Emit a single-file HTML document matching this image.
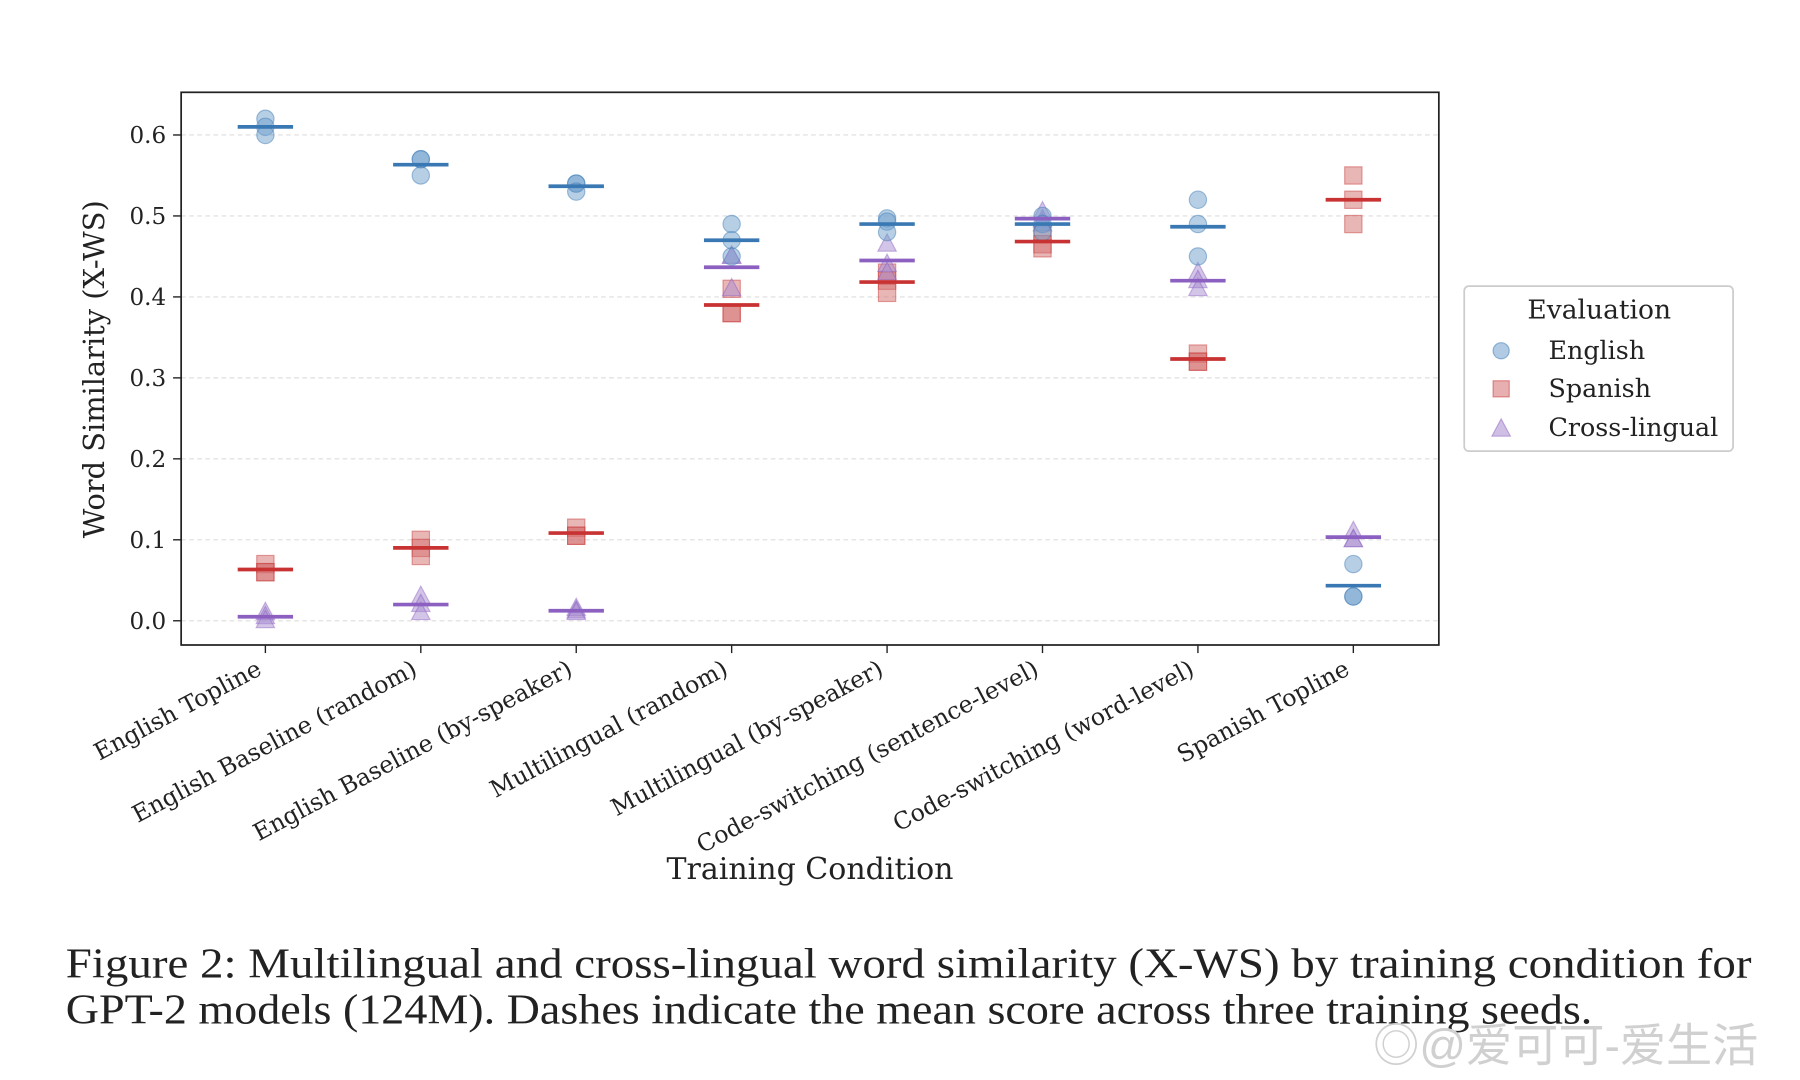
<!DOCTYPE html>
<html><head><meta charset="utf-8"><style>
html,body{margin:0;padding:0;background:#fff;}
svg{display:block;}
text{font-family:"DejaVu Serif","Liberation Serif",serif;fill:#222;}
</style></head><body>
<svg id="chart" width="1800" height="1080" viewBox="0 0 1560 936" xmlns="http://www.w3.org/2000/svg">
<rect x="0" y="0" width="1560" height="936" fill="#fff"/>
<g id="grid"></g>
<rect x="157" y="80" width="1090" height="479" fill="none" stroke="#222" stroke-width="1.5"/>
<g id="marks"></g>
<g id="axes"></g>
<text transform="translate(90,320) rotate(-90)" text-anchor="middle" font-size="25">Word Similarity (X-WS)</text>
<text x="702" y="762" text-anchor="middle" font-size="26">Training Condition</text>
<g>
<rect x="1269" y="248" width="233" height="143" rx="4" fill="#fff" stroke="#ccc" stroke-width="1.5"/>
<text x="1386" y="276" text-anchor="middle" font-size="23">Evaluation</text>
<g><circle cx="1301" cy="304" r="7" fill="#6fa0cc" fill-opacity="0.55" stroke="#3a78b3" stroke-opacity="0.5"/><text x="1342" y="311" font-size="22">English</text></g>
<g><rect x="1294" y="330" width="14" height="14" fill="#d36e6e" fill-opacity="0.55" stroke="#c83232" stroke-opacity="0.5"/><text x="1342" y="344" font-size="22">Spanish</text></g>
<g><path d="M1301,363 L1309,378 L1293,378 Z" fill="#a78bd0" fill-opacity="0.55" stroke="#8c60c0" stroke-opacity="0.5"/><text x="1342" y="378" font-size="22">Cross-lingual</text></g>
</g>
<text x="57" y="847" font-size="37" textLength="1461" lengthAdjust="spacingAndGlyphs" style="font-family:'Liberation Serif',serif">Figure 2: Multilingual and cross-lingual word similarity (X-WS) by training condition for</text>
<text x="57" y="887" font-size="37" textLength="1323" lengthAdjust="spacingAndGlyphs" style="font-family:'Liberation Serif',serif">GPT-2 models (124M). Dashes indicate the mean score across three training seeds.</text>
<text x="1190" y="920" font-size="40" style="fill:#d0d0d0;font-family:'Liberation Sans','Noto Sans CJK SC',sans-serif">◎@爱可可-爱生活</text>
</svg>
<script>
const categories = ["English Topline","English Baseline (random)","English Baseline (by-speaker)","Multilingual (random)","Multilingual (by-speaker)","Code-switching (sentence-level)","Code-switching (word-level)","Spanish Topline"];
const englishSeeds = [[0.62,0.61,0.60],[0.57,0.57,0.55],[0.54,0.54,0.53],[0.49,0.47,0.45],[0.497,0.493,0.48],[0.50,0.49,0.48],[0.52,0.49,0.45],[0.07,0.03,0.03]];
const spanishSeeds = [[0.07,0.06,0.06],[0.10,0.09,0.08],[0.115,0.105,0.105],[0.41,0.38,0.38],[0.43,0.42,0.405],[0.48,0.465,0.46],[0.33,0.32,0.32],[0.55,0.52,0.49]];
const crossSeeds = [[0.01,0.005,0.0],[0.03,0.02,0.01],[0.015,0.012,0.01],[0.45,0.45,0.41],[0.465,0.44,0.43],[0.505,0.495,0.49],[0.43,0.42,0.41],[0.11,0.10,0.10]];
const yTicks = [0.0,0.1,0.2,0.3,0.4,0.5,0.6];
const yTickLabels = ["0.0","0.1","0.2","0.3","0.4","0.5","0.6"];

const NS="http://www.w3.org/2000/svg";
function xPos(i){return 230+i*134.7;}
function yPos(v){return 538-v*701.7;}
function mk(tag,attrs,parent){const e=document.createElementNS(NS,tag);for(const k in attrs)e.setAttribute(k,attrs[k]);parent.appendChild(e);return e;}
const grid=document.getElementById('grid'),marks=document.getElementById('marks'),axes=document.getElementById('axes');
yTicks.forEach((t,i)=>{
  const y=yPos(t);
  const gl=mk('line',{x1:157,x2:1247,y1:y,y2:y,stroke:'#ddd','stroke-dasharray':'4,3','stroke-width':1},grid);
  
  
  const tk=mk('line',{x1:150,x2:157,y1:y,y2:y,stroke:'#222','stroke-width':1.2},axes);
  
  
  const tl=mk('text',{x:144,y:y+7,'text-anchor':'end','font-size':20},axes);
  tl.textContent=yTickLabels[i];
  
  
});
categories.forEach((c,i)=>{
  const x=xPos(i);
  const tk=mk('line',{x1:x,x2:x,y1:559,y2:566,stroke:'#222','stroke-width':1.2},axes);
  
  
  const tl=mk('text',{transform:`translate(${x-2},${584}) rotate(-28)`,'text-anchor':'end','font-size':20.5},axes);
  tl.textContent=c;
  
  
});
const series=[
  {d:englishSeeds,shape:'circle',fill:'#6fa0cc',line:'#3a78b3',name:'english'},
  {d:spanishSeeds,shape:'square',fill:'#d36e6e',line:'#c83232',name:'spanish'},
  {d:crossSeeds,shape:'triangle',fill:'#a78bd0',line:'#8c60c0',name:'cross-lingual'}
];
[1,2,0].forEach(si=>{
  const s=series[si];
  s.d.forEach((vals,i)=>{
    const x=xPos(i);
    vals.forEach(v=>{
      const y=yPos(v);let e;
      const st={fill:s.fill,'fill-opacity':0.5,stroke:s.line,'stroke-opacity':0.45,'stroke-width':1};
      if(s.shape==='circle'){e=mk('circle',Object.assign({cx:x,cy:y,r:7.5},st),marks);}
      else if(s.shape==='square'){e=mk('rect',Object.assign({x:x-7.5,y:y-7.5,width:15,height:15},st),marks);}
      else{e=mk('path',Object.assign({d:`M${x},${y-9} L${x+8},${y+6} L${x-8},${y+6} Z`},st),marks);}
      
      
    });
  });
});
series.forEach(s=>{
  s.d.forEach((vals,i)=>{
    const m=(vals[0]+vals[1]+vals[2])/3;const x=xPos(i),y=yPos(m);
    const l=mk('line',{x1:x-24,x2:x+24,y1:y,y2:y,stroke:s.line,'stroke-width':3.2},marks);
    
    
  });
});
</script>
</body></html>
